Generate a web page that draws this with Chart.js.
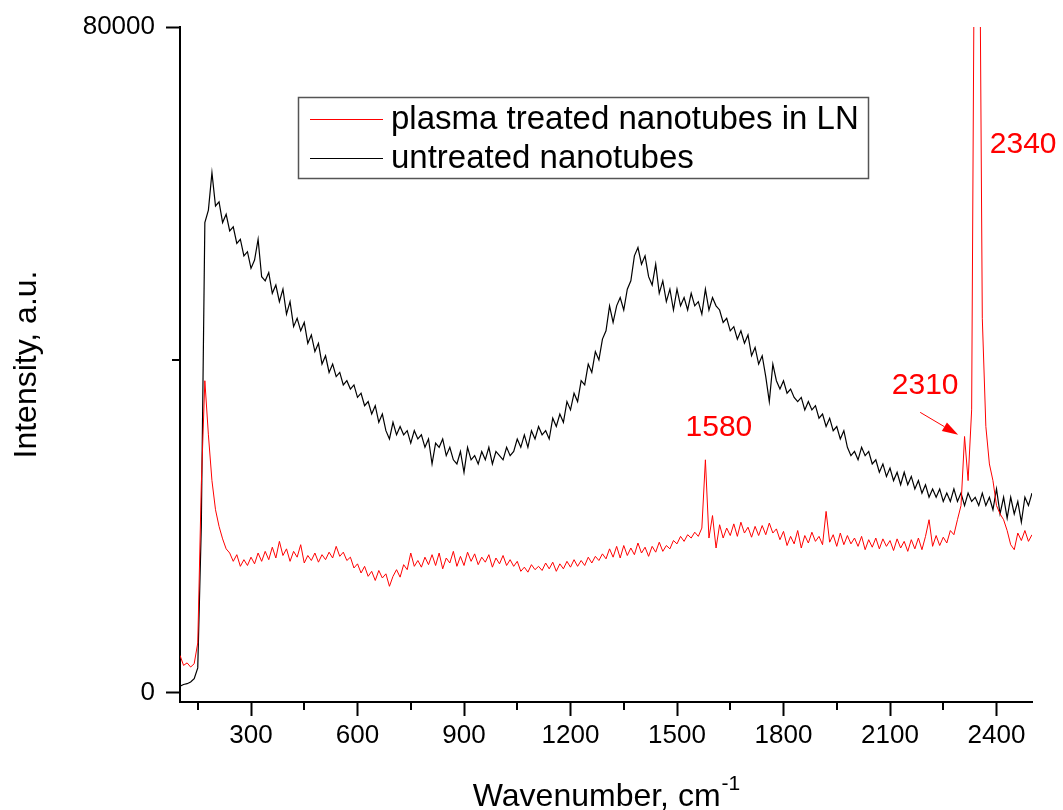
<!DOCTYPE html>
<html>
<head>
<meta charset="utf-8">
<title>Raman spectra</title>
<script src="https://cdn.jsdelivr.net/npm/chart.js@4/dist/chart.umd.min.js"></script>
<style>
  html, body { margin: 0; padding: 0; background: #fff; }
  #wrap { width: 1063px; height: 810px; }
</style>
</head>
<body>
<div id="wrap"><canvas id="spectra" width="1063" height="810"></canvas></div>
<script>
// --- DATA ---
const wavenumbers = [
  100, 110, 120, 130, 140, 150, 160, 170, 180, 190,
  200, 210, 220, 230, 240, 250, 260, 270, 280, 290,
  300, 310, 320, 330, 340, 350, 360, 370, 380, 390,
  400, 410, 420, 430, 440, 450, 460, 470, 480, 490,
  500, 510, 520, 530, 540, 550, 560, 570, 580, 590,
  600, 610, 620, 630, 640, 650, 660, 670, 680, 690,
  700, 710, 720, 730, 740, 750, 760, 770, 780, 790,
  800, 810, 820, 830, 840, 850, 860, 870, 880, 890,
  900, 910, 920, 930, 940, 950, 960, 970, 980, 990,
  1000, 1010, 1020, 1030, 1040, 1050, 1060, 1070, 1080, 1090,
  1100, 1110, 1120, 1130, 1140, 1150, 1160, 1170, 1180, 1190,
  1200, 1210, 1220, 1230, 1240, 1250, 1260, 1270, 1280, 1290,
  1300, 1310, 1320, 1330, 1340, 1350, 1360, 1370, 1380, 1390,
  1400, 1410, 1420, 1430, 1440, 1450, 1460, 1470, 1480, 1490,
  1500, 1510, 1520, 1530, 1540, 1550, 1560, 1570, 1580, 1590,
  1600, 1610, 1620, 1630, 1640, 1650, 1660, 1670, 1680, 1690,
  1700, 1710, 1720, 1730, 1740, 1750, 1760, 1770, 1780, 1790,
  1800, 1810, 1820, 1830, 1840, 1850, 1860, 1870, 1880, 1890,
  1900, 1910, 1920, 1930, 1940, 1950, 1960, 1970, 1980, 1990,
  2000, 2010, 2020, 2030, 2040, 2050, 2060, 2070, 2080, 2090,
  2100, 2110, 2120, 2130, 2140, 2150, 2160, 2170, 2180, 2190,
  2200, 2210, 2220, 2230, 2240, 2250, 2260, 2270, 2280, 2290,
  2300, 2310, 2320, 2330, 2340, 2350, 2360, 2370, 2380, 2390,
  2400, 2410, 2420, 2430, 2440, 2450, 2460, 2470, 2480, 2490,
  2500
];

const plasmaTreated = [
  4500, 3300, 3600, 3100, 3500, 6000, 25000, 37500, 31000, 25500,
  22000, 20000, 18500, 17300, 16800, 15800, 16600, 15200, 16000, 15300,
  16300, 15500, 16800, 15800, 17000, 16000, 17500, 16200, 18200, 16500,
  17300, 15800, 17000, 16300, 17800, 15600, 16500, 15900, 16800, 15700,
  16600, 16000, 16900, 16200, 17600, 16400, 16900, 15900, 16300, 15000,
  15500, 14400, 15200, 14000, 14600, 13500, 14700, 13800, 14300, 12800,
  14000, 14800, 13900, 15400, 14800, 16800, 15200, 15900, 15100, 16300,
  15400, 16600, 15300, 16800, 14900, 16200, 15600, 17000, 15200, 16400,
  15300, 16900, 15800, 16700, 15400, 16300, 15700, 16600, 15100, 16200,
  15500, 16500, 15300, 16000, 15200, 15800, 14600, 15100, 14500, 15400,
  14800, 15200, 14700, 15600, 14900, 15700, 14600, 15500, 14900, 15800,
  15100, 16000, 15200, 15900, 15300, 16300, 15600, 16400, 15900, 16700,
  16100, 17300, 16300, 17600, 16200, 17700, 16500, 17400, 16600, 18000,
  16800, 17500, 16400, 17600, 16900, 18100, 17000, 17700, 17300, 18300,
  17900, 18800, 18200, 19000, 18600, 19300, 18800, 19800, 28000, 18600,
  21300, 17400, 20200, 18600, 19800, 18900, 20300, 18800, 20500, 19200,
  19900, 18700, 20000, 18900, 20100, 19000, 20400, 19200, 19700, 18400,
  19400, 17700, 18800, 17900, 19500, 17400, 18900, 18000, 19300, 18200,
  18800, 17800, 21800, 18100, 19000, 17600, 19200, 17800, 18900, 17900,
  18600, 17600, 18800, 17200, 18400, 17500, 18600, 17300, 18500, 17600,
  18300, 17100, 18500, 17400, 18200, 17000, 18400, 17300, 18600, 17200,
  18800, 20800, 17600, 18900, 17700, 18700, 18000, 19500, 19000, 20800,
  22500, 30800, 25500, 34000, 110000, 110000, 45000, 32000, 27500, 25500,
  22500, 21500, 20800, 19500, 17800, 17200, 19200, 18300, 19500, 18200,
  19000
];

const untreated = [
  800, 1000, 1100, 1300, 1700, 3000, 20000, 56500, 58000, 62500,
  58500, 59000, 56500, 57500, 55500, 56000, 54000, 54500, 52500, 53000,
  51000, 52000, 54500, 50000, 49500, 50500, 48000, 49000, 47000, 48500,
  45500, 47000, 44000, 45000, 43500, 44500, 42000, 43000, 41000, 42000,
  39500, 40500, 38500, 39500, 38000, 38500, 37000, 37500, 36500, 37000,
  35500, 36000, 34500, 35000, 33500, 34500, 32500, 33500, 31500, 30500,
  32500, 31000, 32000, 31000, 31500, 30000, 31500, 30500, 31000, 29500,
  30500, 27500, 30000, 29500, 30500, 28500, 29500, 28000, 27500, 29000,
  26500, 29500, 28000, 28500, 27500, 29000, 28000, 29500, 27500, 29000,
  28500, 28000, 29500, 28500, 29000, 30500, 29500, 31000, 29500, 31500,
  30500, 32000, 31000, 31500, 30500, 33000, 32000, 33500, 32500, 35000,
  34000, 36000, 35000, 37500, 37000, 39500, 38500, 41000, 40000, 42500,
  43500, 46500, 44500, 46500, 47500, 46000, 48500, 49500, 52500, 53500,
  51500, 52500, 50000, 49000, 51500, 48000, 49500, 47000, 48500, 46000,
  48500, 46500, 47500, 46000, 48000, 46500, 47000, 45500, 48500, 46000,
  47500, 46500, 46000, 44500, 45000, 43500, 44000, 42500, 43500, 42000,
  43000, 40500, 41500, 39500, 40500, 38000, 35000, 39500, 37500, 36500,
  37500, 36000, 36500, 35500, 35000, 35500, 34000, 35000, 34000, 34500,
  33000, 33500, 32000, 33000, 31500, 32000, 30500, 31500, 29500, 28500,
  29000, 28000, 29500, 28500, 29000, 27500, 28000, 26500, 27500, 26000,
  27000, 25500, 26500, 25000, 26500, 25000, 26000, 24500, 25500, 24000,
  25000, 23500, 24500, 23500, 24500, 23000, 24000, 23000, 24500, 23000,
  24000, 22500, 24000, 23000, 23500, 22500, 24000, 22500, 23500, 22000,
  24500, 21500, 23500, 21000, 23500, 21500, 23000, 20500, 23500, 22500,
  24000
];

const seriesLabels = ["plasma treated nanotubes in LN", "untreated nanotubes"];
const xMajorTicks = [300, 600, 900, 1200, 1500, 1800, 2100, 2400];
const xMinorTicks = [150, 450, 750, 1050, 1350, 1650, 1950, 2250];
const yMajorTicks = [0, 80000];
const yMinorTicks = [40000];

// peak labels anchored in data units (wavenumber, intensity)
const peakLabels = [
  { text: "1580", wn: 1618, val: 31800 },
  { text: "2310", wn: 2199, val: 36900 },
  { text: "2340", wn: 2475, val: 65800 }
];
const arrowFrom = [2185, 33700];
const arrowTo = [2292, 31000];

const FONT = "'Liberation Sans', Arial, Helvetica, sans-serif";

// --- extra drawing: minor ticks, titles, legend box, peak labels ---
const extras = {
  id: "extras",
  afterDraw(chart) {
    const c = chart.ctx;
    const xs = chart.scales.x, ys = chart.scales.y;
    const area = chart.chartArea;
    c.save();

    // minor ticks
    c.strokeStyle = "#000";
    c.lineWidth = 2;
    xMinorTicks.forEach(v => {
      const px = Math.round(xs.getPixelForValue(v));
      c.beginPath(); c.moveTo(px, area.bottom); c.lineTo(px, area.bottom + 8); c.stroke();
    });
    yMinorTicks.forEach(v => {
      const py = Math.round(ys.getPixelForValue(v));
      c.beginPath(); c.moveTo(area.left - 8, py); c.lineTo(area.left, py); c.stroke();
    });

    // axis titles
    c.fillStyle = "#000";
    c.textBaseline = "alphabetic";
    const main = "Wavenumber, cm";
    c.font = "32px " + FONT;
    const wMain = c.measureText(main).width;
    c.font = "21px " + FONT;
    const wSup = c.measureText("-1").width;
    const x0 = (area.left + area.right) / 2 - (wMain + wSup) / 2;
    c.font = "32px " + FONT;
    c.textAlign = "left";
    c.fillText(main, x0, 806);
    c.font = "21px " + FONT;
    c.fillText("-1", x0 + wMain + 1, 790);

    c.save();
    c.translate(27, (area.top + area.bottom) / 2);
    c.rotate(-Math.PI / 2);
    c.font = "32px " + FONT;
    c.textAlign = "center";
    c.textBaseline = "middle";
    c.fillText("Intensity, a.u.", 0, 0);
    c.restore();

    // legend box
    c.strokeStyle = "#555";
    c.lineWidth = 1.5;
    c.strokeRect(298.5, 97.5, 570, 81);
    chart.data.datasets.forEach((ds, i) => {
      const ly = 119 + i * 39;
      c.strokeStyle = ds.borderColor;
      c.lineWidth = 1;
      c.beginPath(); c.moveTo(310, ly + 0.5); c.lineTo(383, ly + 0.5); c.stroke();
      c.fillStyle = "#000";
      c.font = "33px " + FONT;
      c.textAlign = "left";
      c.textBaseline = "middle";
      c.fillText(ds.label, 391, ly + 1);
    });

    // peak labels
    c.fillStyle = "#ff0000";
    c.font = "30px " + FONT;
    c.textAlign = "center";
    c.textBaseline = "middle";
    peakLabels.forEach(p => {
      c.fillText(p.text, xs.getPixelForValue(p.wn), ys.getPixelForValue(p.val));
    });

    // arrow to the 2310 shoulder
    const ax0 = xs.getPixelForValue(arrowFrom[0]), ay0 = ys.getPixelForValue(arrowFrom[1]);
    const ax1 = xs.getPixelForValue(arrowTo[0]), ay1 = ys.getPixelForValue(arrowTo[1]);
    const ang = Math.atan2(ay1 - ay0, ax1 - ax0);
    const headLen = 16, headW = 5;
    c.strokeStyle = "#ff0000";
    c.lineWidth = 1;
    c.beginPath(); c.moveTo(ax0, ay0);
    c.lineTo(ax1 - headLen * Math.cos(ang), ay1 - headLen * Math.sin(ang)); c.stroke();
    c.beginPath();
    c.moveTo(ax1, ay1);
    c.lineTo(ax1 - headLen * Math.cos(ang) + headW * Math.sin(ang), ay1 - headLen * Math.sin(ang) - headW * Math.cos(ang));
    c.lineTo(ax1 - headLen * Math.cos(ang) - headW * Math.sin(ang), ay1 - headLen * Math.sin(ang) + headW * Math.cos(ang));
    c.closePath();
    c.fill();

    c.restore();
  }
};

const toPoints = arr => wavenumbers.map((w, i) => ({ x: w, y: arr[i] }));

const ctx = document.getElementById("spectra").getContext("2d");
const chart = new Chart(ctx, {
  type: "line",
  data: {
    datasets: [
      { label: seriesLabels[0], data: toPoints(plasmaTreated), borderColor: "#ff0000", borderWidth: 1, pointRadius: 0, tension: 0, fill: false },
      { label: seriesLabels[1], data: toPoints(untreated), borderColor: "#000000", borderWidth: 1.2, pointRadius: 0, tension: 0, fill: false }
    ]
  },
  options: {
    responsive: false,
    animation: false,
    devicePixelRatio: 1,
    parsing: false,
    layout: { padding: { left: 0, right: 31, top: 27, bottom: 0 } },
    plugins: { legend: { display: false }, tooltip: { enabled: false } },
    scales: {
      x: {
        type: "linear", min: 100, max: 2500,
        afterBuildTicks: s => { s.ticks = xMajorTicks.map(v => ({ value: v })); },
        afterFit: s => { s.height = 108; },
        grid: { drawOnChartArea: false, drawTicks: true, tickLength: 14, tickWidth: 2, tickColor: "#000" },
        border: { display: true, color: "#000", width: 2 },
        ticks: { color: "#000", font: { family: FONT, size: 26 }, padding: 4, maxRotation: 0, autoSkip: false, callback: v => String(v) }
      },
      y: {
        type: "linear", min: -1100, max: 80000,
        afterBuildTicks: s => { s.ticks = yMajorTicks.map(v => ({ value: v })); },
        afterFit: s => { s.width = 180; },
        grid: { drawOnChartArea: false, drawTicks: true, tickLength: 14, tickWidth: 2, tickColor: "#000" },
        border: { display: true, color: "#000", width: 2 },
        ticks: { color: "#000", font: { family: FONT, size: 26 }, padding: 11, autoSkip: false, callback: v => String(v) }
      }
    }
  },
  plugins: [extras]
});
</script>
</body>
</html>
